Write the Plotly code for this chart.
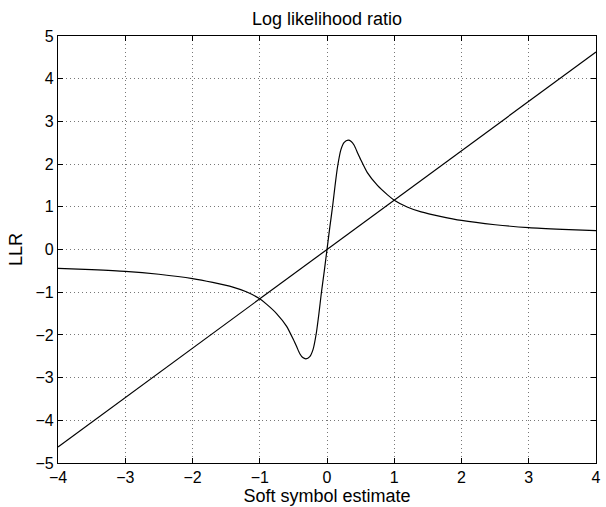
import plotly.graph_objects as go

# Straight reference line (endpoints)
line_x = [-4.0, 4.0]
line_y = [-4.625, 4.625]

# LLR curve (positive half, mirrored for the negative half)
curve_x_pos = [0.0, 0.04, 0.084, 0.12, 0.158, 0.207, 0.256, 0.314, 0.36, 0.404, 0.45,
               0.5, 0.6, 0.75, 0.9, 1.0, 1.2, 1.4, 1.7, 2.0, 2.5, 3.0, 3.5, 4.0]
curve_y_pos = [0.0, 0.50, 1.02, 1.50, 1.95, 2.34, 2.51, 2.56, 2.53, 2.44, 2.28,
               2.11, 1.80, 1.50, 1.28, 1.156, 0.99, 0.88, 0.77, 0.68, 0.58, 0.51, 0.47, 0.44]

curve_x = [-v for v in curve_x_pos[::-1]] + curve_x_pos[1:]
curve_y = [-v for v in curve_y_pos[::-1]] + curve_y_pos[1:]

x_ticks = [-4, -3, -2, -1, 0, 1, 2, 3, 4]
y_ticks = [-5, -4, -3, -2, -1, 0, 1, 2, 3, 4, 5]

fig = go.Figure()
fig.add_trace(go.Scatter(x=curve_x, y=curve_y, mode="lines",
                         line=dict(color="black", width=1.2, shape="spline", smoothing=0.6)))
fig.add_trace(go.Scatter(x=line_x, y=line_y, mode="lines",
                         line=dict(color="black", width=1.2)))

axis_common = dict(
    showline=True, linecolor="black", linewidth=1.2, mirror="ticks",
    ticks="inside", ticklen=5, tickwidth=1, tickcolor="black",
    showgrid=True, gridcolor="#777777", gridwidth=1, griddash="1px,3px",
    zeroline=False, tickfont=dict(size=16, color="black"),
)

fig.update_xaxes(range=[-4, 4], tickvals=x_ticks, **axis_common,
                 title=dict(text="Soft symbol estimate", font=dict(size=18), standoff=3))
fig.update_yaxes(range=[-5, 5], tickvals=y_ticks, **axis_common,
                 title=dict(text="LLR", font=dict(size=18), standoff=8))

fig.update_layout(
    width=606, height=507,
    margin=dict(l=58, r=5, t=36, b=43),
    plot_bgcolor="white", paper_bgcolor="white",
    showlegend=False,
    font=dict(family="Liberation Sans, Arial, sans-serif", size=16, color="black"),
    title=dict(text="Log likelihood ratio", x=0.5, xref="paper", xanchor="center",
               y=1 - 19 / 507, yref="container", yanchor="middle",
               font=dict(size=18, color="black")),
)

fig.write_html("out.html")
